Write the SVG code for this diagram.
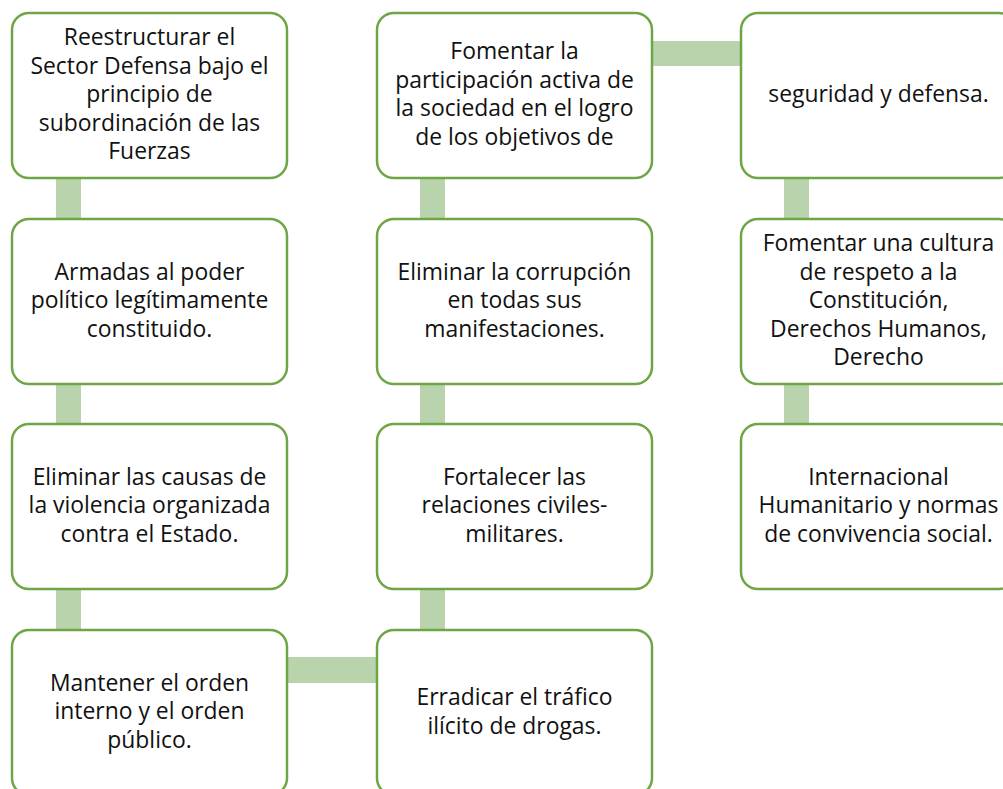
<svg xmlns="http://www.w3.org/2000/svg" width="1003" height="789" viewBox="0 0 1003 789">
<style>
.box{fill:#ffffff;stroke:#6ea645;stroke-width:2.5}
.con{fill:#b9d3ad}
text{font-family:"Open Sans",Lato,sans-serif;font-size:22.9px;fill:#111111;text-anchor:middle;font-variant-ligatures:none}
</style>
<rect width="1003" height="789" fill="#ffffff"/>
<g id="connectors">
<rect class="con" x="56" y="175" width="25" height="48"/>
<rect class="con" x="56" y="380" width="25" height="48"/>
<rect class="con" x="56" y="586" width="25" height="48"/>
<rect class="con" x="284" y="657" width="96" height="26"/>
<rect class="con" x="420" y="586" width="25" height="48"/>
<rect class="con" x="420" y="380" width="25" height="48"/>
<rect class="con" x="420" y="175" width="25" height="48"/>
<rect class="con" x="649" y="41" width="95" height="25"/>
<rect class="con" x="784" y="175" width="25" height="48"/>
<rect class="con" x="784" y="380" width="25" height="48"/>
</g>
<g id="n1"><rect class="box" x="12" y="13" width="275" height="165" rx="17"/>
<text x="149.5"><tspan x="149.5" y="45">Reestructurar el</tspan><tspan x="149.5" y="73.5">Sector Defensa bajo el</tspan><tspan x="149.5" y="102">principio de</tspan><tspan x="149.5" y="130.5">subordinación de las</tspan><tspan x="149.5" y="159">Fuerzas</tspan></text></g>
<g id="n2"><rect class="box" x="12" y="219" width="275" height="165" rx="17"/>
<text x="149.5"><tspan x="149.5" y="279.5">Armadas al poder</tspan><tspan x="149.5" y="308">político legítimamente</tspan><tspan x="149.5" y="336.5">constituido.</tspan></text></g>
<g id="n3"><rect class="box" x="12" y="424" width="275" height="165" rx="17"/>
<text x="149.5"><tspan x="149.5" y="484.5">Eliminar las causas de</tspan><tspan x="149.5" y="513">la violencia organizada</tspan><tspan x="149.5" y="541.5">contra el Estado.</tspan></text></g>
<g id="n4"><rect class="box" x="12" y="630" width="275" height="165" rx="17"/>
<text x="149.5"><tspan x="149.5" y="690.5">Mantener el orden</tspan><tspan x="149.5" y="719">interno y el orden</tspan><tspan x="149.5" y="747.5">público.</tspan></text></g>
<g id="n5"><rect class="box" x="377" y="630" width="275" height="165" rx="17"/>
<text x="514.5"><tspan x="514.5" y="705">Erradicar el tráfico</tspan><tspan x="514.5" y="733.5">ilícito de drogas.</tspan></text></g>
<g id="n6"><rect class="box" x="377" y="424" width="275" height="165" rx="17"/>
<text x="514.5"><tspan x="514.5" y="484.5">Fortalecer las</tspan><tspan x="514.5" y="513">relaciones civiles-</tspan><tspan x="514.5" y="541.5">militares.</tspan></text></g>
<g id="n7"><rect class="box" x="377" y="219" width="275" height="165" rx="17"/>
<text x="514.5"><tspan x="514.5" y="279.5">Eliminar la corrupción</tspan><tspan x="514.5" y="308">en todas sus</tspan><tspan x="514.5" y="336.5">manifestaciones.</tspan></text></g>
<g id="n8"><rect class="box" x="377" y="13" width="275" height="165" rx="17"/>
<text x="514.5"><tspan x="514.5" y="59">Fomentar la</tspan><tspan x="514.5" y="87.5">participación activa de</tspan><tspan x="514.5" y="116">la sociedad en el logro</tspan><tspan x="514.5" y="144.5">de los objetivos de</tspan></text></g>
<g id="n9"><rect class="box" x="741" y="13" width="275" height="165" rx="17"/>
<text x="878.5"><tspan x="878.5" y="102">seguridad y defensa.</tspan></text></g>
<g id="n10"><rect class="box" x="741" y="219" width="275" height="165" rx="17"/>
<text x="878.5"><tspan x="878.5" y="251">Fomentar una cultura</tspan><tspan x="878.5" y="279.5">de respeto a la</tspan><tspan x="878.5" y="308">Constitución,</tspan><tspan x="878.5" y="336.5">Derechos Humanos,</tspan><tspan x="878.5" y="365">Derecho</tspan></text></g>
<g id="n11"><rect class="box" x="741" y="424" width="275" height="165" rx="17"/>
<text x="878.5"><tspan x="878.5" y="484.5">Internacional</tspan><tspan x="878.5" y="513">Humanitario y normas</tspan><tspan x="878.5" y="541.5">de convivencia social.</tspan></text></g>
</svg>
